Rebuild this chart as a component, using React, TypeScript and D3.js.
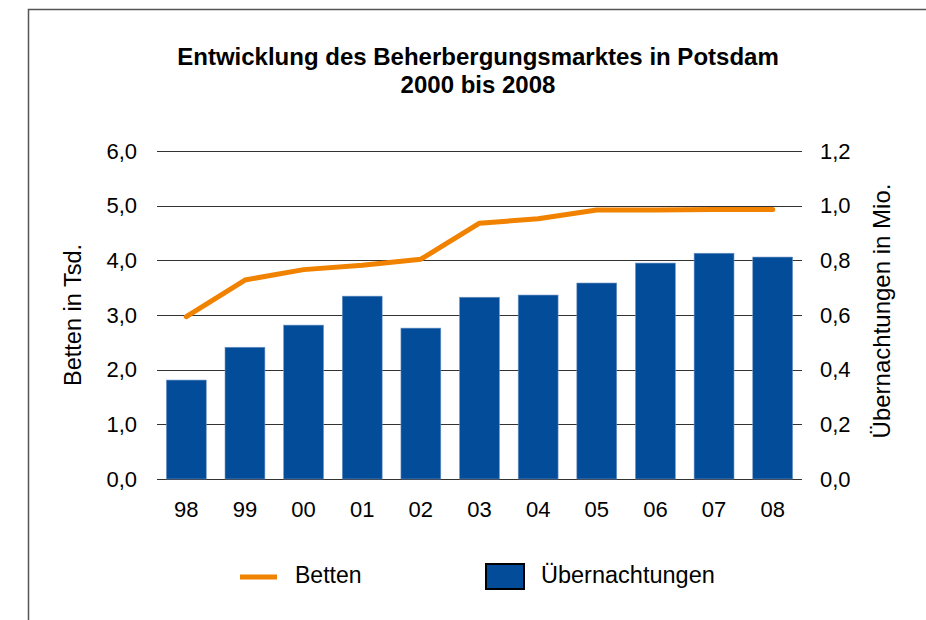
import { useEffect, useRef } from 'react';
import * as d3 from 'd3';

const years = ['98', '99', '00', '01', '02', '03', '04', '05', '06', '07', '08'];
// Betten in Tsd. (left axis)
const betten = [2.97, 3.64, 3.83, 3.91, 4.02, 4.68, 4.76, 4.92, 4.92, 4.93, 4.93];
// Übernachtungen in Mio. (right axis)
const uebernachtungen = [0.362, 0.482, 0.563, 0.669, 0.552, 0.665, 0.673, 0.717, 0.79, 0.826, 0.812];
const leftTicks = [0, 1, 2, 3, 4, 5, 6];
const rightTicks = [0, 0.2, 0.4, 0.6, 0.8, 1.0, 1.2];

const W = 926;
const H = 620;
const FONT = '"Liberation Sans", Arial, Helvetica, sans-serif';
const ORANGE = '#f08200';
const BLUE = '#034c9a';

const fmt = (v: number) => v.toFixed(1).replace('.', ',');

const App = () => {
  const ref = useRef<SVGSVGElement>(null);

  useEffect(() => {
    if (!ref.current) return;
    const svg = d3.select(ref.current);
    svg.selectAll('*').remove();

    const margin = { top: 151, right: 124, bottom: 141, left: 157 };
    const w = W - margin.left - margin.right;
    const h = H - margin.top - margin.bottom;

    // outer frame
    svg.append('path')
      .attr('d', `M28.5,${H} L28.5,9.5 L${W},9.5`)
      .attr('fill', 'none')
      .attr('stroke', '#555')
      .attr('stroke-width', 1.5);

    svg.append('text')
      .attr('x', 478)
      .attr('y', 65)
      .attr('text-anchor', 'middle')
      .attr('font-family', FONT)
      .attr('font-weight', 'bold')
      .attr('font-size', 24)
      .text('Entwicklung des Beherbergungsmarktes in Potsdam');
    svg.append('text')
      .attr('x', 478)
      .attr('y', 93)
      .attr('text-anchor', 'middle')
      .attr('font-family', FONT)
      .attr('font-weight', 'bold')
      .attr('font-size', 24)
      .text('2000 bis 2008');

    const g = svg.append('g').attr('transform', `translate(${margin.left},${margin.top})`);

    const x = d3.scaleBand<string>().domain(years).range([0, w]).paddingInner(0.32).paddingOuter(0.16);
    const yL = d3.scaleLinear().domain([0, 6]).range([h, 0]);
    const yR = d3.scaleLinear().domain([0, 1.2]).range([h, 0]);

    // gridlines
    g.selectAll('line.grid')
      .data(leftTicks)
      .enter()
      .append('line')
      .attr('x1', 0)
      .attr('x2', w)
      .attr('y1', (d) => Math.round(yL(d)) + 0.5)
      .attr('y2', (d) => Math.round(yL(d)) + 0.5)
      .attr('stroke', '#333')
      .attr('stroke-width', 1.2);

    // left tick labels
    g.selectAll('text.yl')
      .data(leftTicks)
      .enter()
      .append('text')
      .attr('x', -20)
      .attr('y', (d) => yL(d))
      .attr('dy', '0.35em')
      .attr('text-anchor', 'end')
      .attr('font-family', FONT)
      .attr('font-size', 22)
      .text((d) => fmt(d));

    // right tick labels
    g.selectAll('text.yr')
      .data(rightTicks)
      .enter()
      .append('text')
      .attr('x', w + 18)
      .attr('y', (d) => yR(d))
      .attr('dy', '0.35em')
      .attr('text-anchor', 'start')
      .attr('font-family', FONT)
      .attr('font-size', 22)
      .text((d) => fmt(d));

    // bars
    g.selectAll('rect.bar')
      .data(uebernachtungen)
      .enter()
      .append('rect')
      .attr('x', (_, i) => x(years[i]) || 0)
      .attr('y', (d) => yR(d))
      .attr('width', x.bandwidth())
      .attr('height', (d) => h - yR(d))
      .attr('fill', BLUE)
      .attr('stroke', '#6f95c4')
      .attr('stroke-width', 0.6);

    // line
    const line = d3
      .line<number>()
      .x((_, i) => (x(years[i]) || 0) + x.bandwidth() / 2)
      .y((d) => yL(d));
    g.append('path')
      .datum(betten)
      .attr('d', line)
      .attr('fill', 'none')
      .attr('stroke', ORANGE)
      .attr('stroke-width', 5)
      .attr('stroke-linecap', 'round')
      .attr('stroke-linejoin', 'round');

    // x labels
    g.selectAll('text.xl')
      .data(years)
      .enter()
      .append('text')
      .attr('x', (d) => (x(d) || 0) + x.bandwidth() / 2)
      .attr('y', h + 38)
      .attr('text-anchor', 'middle')
      .attr('font-family', FONT)
      .attr('font-size', 22)
      .text((d) => d);

    // axis titles
    svg.append('text')
      .attr('transform', 'translate(81,315) rotate(-90)')
      .attr('text-anchor', 'middle')
      .attr('font-family', FONT)
      .attr('font-size', 23.5)
      .text('Betten in Tsd.');
    svg.append('text')
      .attr('transform', 'translate(890,311) rotate(-90)')
      .attr('text-anchor', 'middle')
      .attr('font-family', FONT)
      .attr('font-size', 24)
      .text('Übernachtungen in Mio.');

    // legend
    const lg = svg.append('g');
    lg.append('line')
      .attr('x1', 240)
      .attr('x2', 277)
      .attr('y1', 577)
      .attr('y2', 577)
      .attr('stroke', ORANGE)
      .attr('stroke-width', 5);
    lg.append('text')
      .attr('x', 295)
      .attr('y', 583)
      .attr('font-family', FONT)
      .attr('font-size', 23)
      .text('Betten');
    lg.append('rect')
      .attr('x', 486)
      .attr('y', 564)
      .attr('width', 38)
      .attr('height', 25)
      .attr('fill', BLUE)
      .attr('stroke', '#000')
      .attr('stroke-width', 2);
    lg.append('text')
      .attr('x', 541)
      .attr('y', 583)
      .attr('font-family', FONT)
      .attr('font-size', 23.5)
      .text('Übernachtungen');
  }, []);

  return (
    <svg
      ref={ref}
      width={W}
      height={H}
      style={{ position: 'absolute', left: 0, top: 0, background: '#fff' }}
    />
  );
};

export default App;
